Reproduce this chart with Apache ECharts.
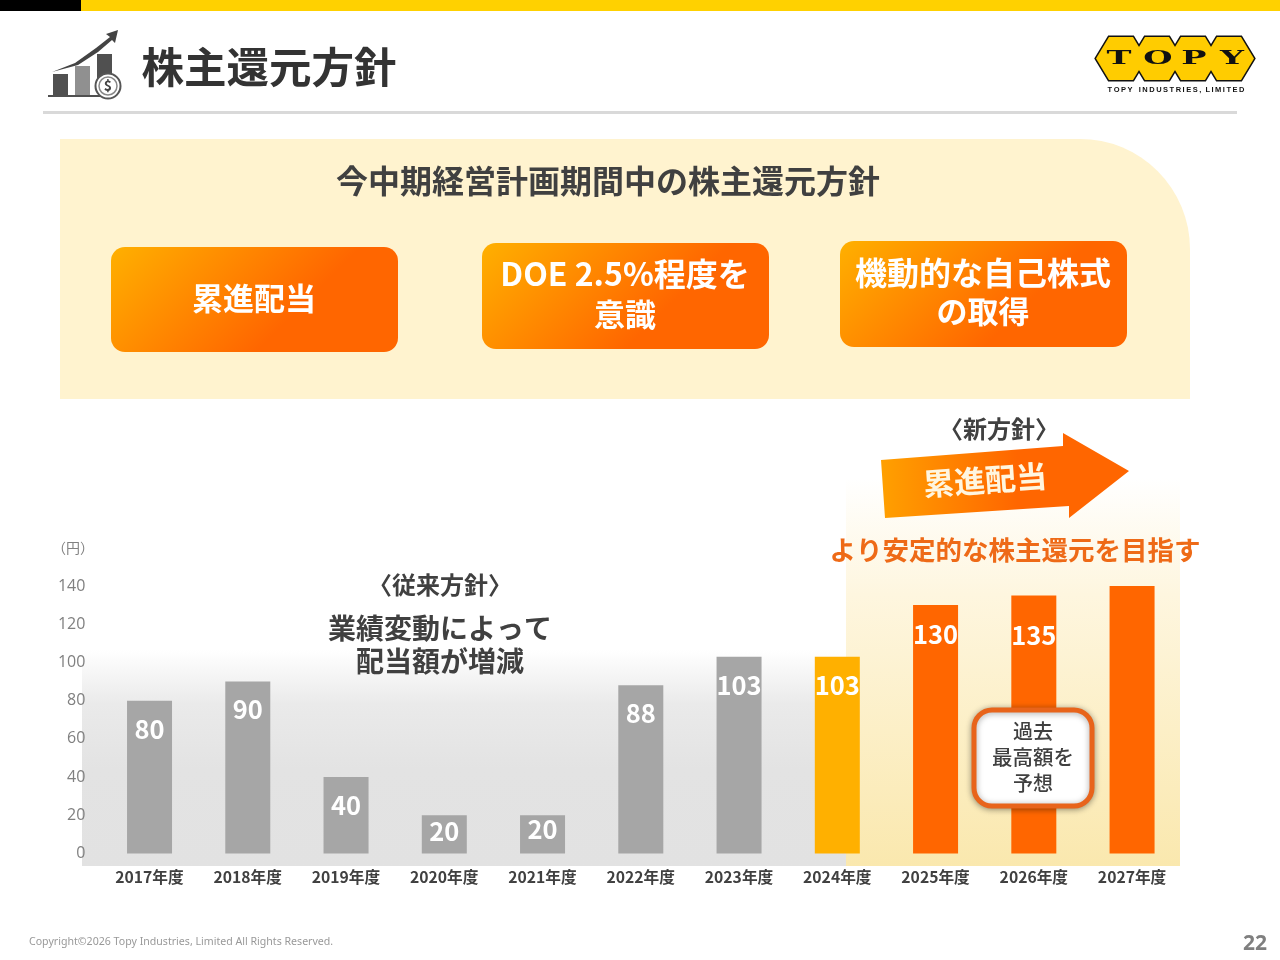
<!DOCTYPE html>
<html lang="ja"><head><meta charset="utf-8">
<style>html,body{margin:0;padding:0;background:#fff}#c{width:1280px;height:960px}</style>
<script src="https://cdn.jsdelivr.net/npm/echarts@6/dist/echarts.min.js"></script>
</head><body><div id="c"></div>
<script>
const categories = ['2017年度','2018年度','2019年度','2020年度','2021年度','2022年度','2023年度','2024年度','2025年度','2026年度','2027年度'];
const dividends = [80,90,40,20,20,88,103,103,130,135,140];
const shownLabels = ['80','90','40','20','20','88','103','103','130','135',''];
const barKinds = ['past','past','past','past','past','past','past','now','plan','plan','plan'];
const kindColors = {past:'#A6A6A6', now:'#FFB000', plan:'#FF6600'};
const labelDistance = {3:3.5, 4:1.5, 9:27, 8:16.5};

const JP = '"Noto Sans CJK JP","Noto Sans",sans-serif';
const G = echarts.graphic;
const diag = (x,y) => new G.LinearGradient(x,y,x+125,y+125,[{offset:0,color:'#FFB000'},{offset:1,color:'#FF6600'}],true);
const T = (text,x,y,size,fill,weight,extra) => Object.assign({type:'text',x,y,z:50,silent:true,
  style:{text,fill,font:`${weight||700} ${size}px ${JP}`,align:'center',verticalAlign:'middle'}},extra||{});
const R = (x,y,w,h,fill,r,z,extra) => Object.assign({type:'rect',z:z==null?0:z,silent:true,shape:{x,y,width:w,height:h,r:r||0},style:{fill}},extra||{});
const P = (points,fill,z,extra) => Object.assign({type:'polygon',z:z==null?50:z,silent:true,shape:{points},style:{fill}},extra||{});

const hex = x0 => [[x0,58.5],[x0+13,37],[x0+37,37],[x0+50,58.5],[x0+37,80],[x0+13,80]];
const logoX = [1096,1132,1168,1204];
const logo = [
  ...logoX.map(x=>P(hex(x),'#FFCC00',40,{style:{fill:'#FFCC00',stroke:'#111',lineWidth:3}})),
  ...logoX.map(x=>P(hex(x),'#FFCC00',41)),
  ...[['T',1119],['O',1158],['P',1194],['Y',1232]].map(([t,x])=>({type:'text',x,y:59,z:50,scaleX:1.6,scaleY:0.85,silent:true,
    style:{text:t,fill:'#111',font:'900 21px "DejaVu Serif",serif',align:'center',verticalAlign:'middle'}})),
  {type:'text',x:1176,y:90,z:50,silent:true,style:{text:'T O P Y   I N D U S T R I E S ,  L I M I T E D'.replace(/([A-Z,]) (?=[A-Z,])/g,'$1\u2009'),fill:'#111',font:'700 7.5px "Liberation Sans",sans-serif',align:'center',verticalAlign:'middle'}}
];

const icon = [
  R(53,74,15,22,'#505050',0,50), R(75,66,15,30,'#909090',0,50), R(97,54,15,28,'#505050',0,50),
  R(48,95,52,2,'#505050',0,50),
  P([[52,72],[75,63],[96,48],[110,37],[106,34],[118,30],[115,43],[112,40],[98,52],[78,65]],'#444',50),
  {type:'circle',z:51,silent:true,shape:{cx:108,cy:86,r:12.5},style:{fill:'#fff',stroke:'#555',lineWidth:2}},
  {type:'circle',z:51,silent:true,shape:{cx:108,cy:86,r:9},style:{fill:'#fff',stroke:'#888',lineWidth:1.5}},
  T('$',108,86,14,'#444',700,{z:52})
];

const graphicElements = [
  R(0,0,81,11,'#000'), R(81,0,1199,11,'#FFD100'),
  R(43,111,1194,3,'#D9D9D9'),
  ...icon, ...logo,
  T('株主還元方針',269,67,42.5,'#333',700),
  R(60,139,1130,260,'#FFF3CF',[0,110,0,0]),
  T('今中期経営計画期間中の株主還元方針',608,181,32,'#404040',700),
  R(111,247,287,105,diag(111,247),14,5), R(482,243,287,106,diag(482,243),14,5), R(840,241,287,106,diag(840,241),14,5),
  T('累進配当',254,298,31,'#fff'),
  T('DOE 2.5%程度を',625,274,32,'#fff'), T('意識',625,314,31,'#fff'),
  T('機動的な自己株式',983,273,32,'#fff'), T('の取得',983,311,31,'#fff'),
  R(82,650,764,216,new G.LinearGradient(0,0,0,1,[{offset:0,color:'#FFFFFF'},{offset:0.25,color:'#EAEAEA'},{offset:0.55,color:'#E3E3E3'},{offset:1,color:'#E2E2E2'}])),
  R(846,478,334,388,new G.LinearGradient(0,0,0,1,[{offset:0,color:'#FFFFFF'},{offset:0.3,color:'#FEF6DF'},{offset:1,color:'#FAE8AE'}])),
  T('〈新方針〉',999,429,24,'#404040'),
  P([[881,460],[1063,446],[1063,433],[1129,471],[1069,518],[1069,506],[885,518]],
    new G.LinearGradient(881,0,1129,0,[{offset:0,color:'#FFA000'},{offset:0.55,color:'#FF6600'},{offset:1,color:'#FF6600'}],true),30),
  T('累進配当',985,480,31,'#FFF6E0',700,{rotation:0.07}),
  T('より安定的な株主還元を目指す',1015,550,26.5,'#EE6A17'),
  T('〈従来方針〉',440,585,24,'#404040'),
  T('業績変動によって',440,628,28,'#404040'),
  T('配当額が増減',440,661,28,'#404040'),
  {type:'text',x:52,y:548,z:50,silent:true,style:{text:'（円）',fill:'#808080',font:`400 14px ${JP}`,align:'left',verticalAlign:'middle'}},
  R(974,710,118,96,'#fff',18,60,{style:{fill:'#fff',stroke:'#E8641B',lineWidth:5,shadowBlur:6,shadowColor:'rgba(0,0,0,0.35)',shadowOffsetY:1}}),
  T('過去',1033,731,20,'#404040',500,{z:61}),
  T('最高額を',1033,757,20.5,'#404040',500,{z:61}),
  T('予想',1033,783,20,'#404040',500,{z:61}),
  {type:'text',x:29,y:942,z:50,silent:true,style:{text:'Copyright©2026 Topy Industries, Limited All Rights Reserved.',fill:'#999',font:'400 10.6px "Noto Sans",sans-serif',align:'left',verticalAlign:'middle'}},
  {type:'text',x:1255,y:944,z:50,silent:true,style:{text:'22',fill:'#7F7F7F',font:'700 21px "Noto Sans",sans-serif',align:'center',verticalAlign:'middle'}}
];

const chart = echarts.init(document.getElementById('c'),null,{renderer:'canvas'});
chart.setOption({
  animation:false,
  backgroundColor:'#fff',
  grid:{left:100.4,right:98.8,top:586,bottom:106.5,containLabel:false},
  graphic:{elements:graphicElements},
  xAxis:{type:'category',data:categories,axisLine:{show:false},axisTick:{show:false},
    axisLabel:{color:'#404040',fontFamily:JP,fontWeight:700,fontSize:15.7,margin:16,interval:0}},
  yAxis:{type:'value',min:0,max:140,interval:20,splitLine:{show:false},axisLine:{show:false},axisTick:{show:false},
    axisLabel:{color:'#808080',fontFamily:'"Open Sans",'+JP,fontSize:16,margin:15,verticalAlign:'middle',lineHeight:20,padding:[0,0,2,0],showMaxLabel:true}},
  series:[{type:'bar',z:10,barWidth:45,
    data:dividends.map((value,i)=>({value,
      itemStyle:{color:kindColors[barKinds[i]]},
      label:{show:!!shownLabels[i],formatter:shownLabels[i],position:'insideTop',
        distance:labelDistance[i]!=null?labelDistance[i]:15.5,color:'#fff',fontFamily:JP,fontWeight:700,fontSize:25.5}}))}]
});
</script></body></html>
